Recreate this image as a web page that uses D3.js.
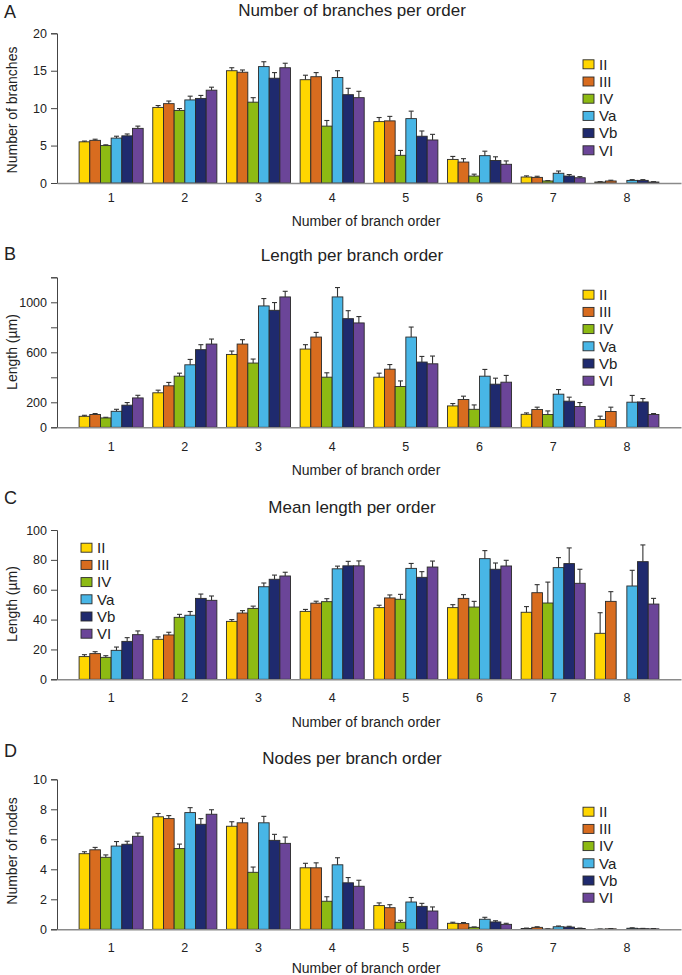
<!DOCTYPE html>
<html>
<head>
<meta charset="utf-8">
<script src="https://cdn.jsdelivr.net/npm/d3@7"></script>
<style>
  html, body { margin: 0; padding: 0; background: #fff; }
  svg { display: block; }
  text { font-family: "Liberation Sans Narrow", "Arial Narrow", "Liberation Sans", Arial, sans-serif; fill: #222; }
</style>
</head>
<body>
<svg id="chart" width="682" height="975"></svg>
<script>
// ---------- data ----------
const categories = ["1", "2", "3", "4", "5", "6", "7", "8"];
const groups = ["II", "III", "IV", "Va", "Vb", "VI"];
const colors = ["#FFD600", "#D86C1F", "#8DBA13", "#48B6E6", "#1F2A6E", "#6B4598"];

// Panel A: number of branches (rows = groups, columns = categories)
const branchesMean = [
  [5.5, 10.1, 15.0, 13.8, 8.2, 3.15, 0.8, 0.13],
  [5.7, 10.6, 14.8, 14.2, 8.3, 2.8, 0.75, 0.27],
  [5.0, 9.7, 10.8, 7.6, 3.7, 0.93, 0.27, 0.0],
  [6.0, 11.1, 15.55, 14.1, 8.6, 3.65, 1.3, 0.35],
  [6.3, 11.3, 14.0, 11.8, 6.25, 3.0, 0.93, 0.35],
  [7.3, 12.4, 15.4, 11.4, 5.75, 2.5, 0.7, 0.13]
];
const branchesErr = [
  [0.1, 0.25, 0.4, 0.6, 0.55, 0.4, 0.15, 0.05],
  [0.15, 0.35, 0.3, 0.55, 0.6, 0.45, 0.15, 0.1],
  [0.1, 0.25, 0.6, 0.75, 0.65, 0.25, 0.05, 0],
  [0.25, 0.5, 0.65, 0.9, 1.0, 0.6, 0.3, 0.1],
  [0.25, 0.4, 0.75, 0.85, 0.7, 0.5, 0.2, 0.1],
  [0.3, 0.4, 0.6, 0.85, 0.75, 0.45, 0.15, 0.05]
];

// Panel B: length per branch order (µm)
const lengthMean = [
  [88, 276, 583, 626, 401, 171, 104, 62],
  [102, 332, 666, 722, 465, 222, 142, 126],
  [75, 409, 514, 401, 326, 144, 102, 0],
  [128, 500, 971, 1043, 722, 409, 265, 201],
  [177, 621, 936, 869, 522, 345, 209, 203],
  [235, 666, 1043, 835, 508, 361, 166, 102]
];
const lengthErr = [
  [8, 21, 27, 35, 32, 19, 11, 27],
  [8, 27, 35, 37, 37, 27, 19, 35],
  [5, 24, 32, 35, 45, 35, 29, 0],
  [16, 43, 59, 75, 80, 54, 37, 54],
  [21, 40, 62, 64, 45, 48, 32, 27],
  [21, 40, 45, 51, 62, 54, 32, 8]
];

// Panel C: mean length per order (µm)
const meanLenMean = [
  [15.2, 26.8, 38.8, 45.5, 48, 48, 44.9, 30.8],
  [17.2, 29.7, 44.4, 51, 54.5, 54.2, 58, 52.2],
  [14.7, 41.5, 47.5, 52, 53.6, 48.4, 51.1, 0],
  [19.4, 42.9, 62, 74, 74.3, 80.8, 74.8, 62.5],
  [25.4, 54.2, 67, 76, 68.3, 73.7, 77.5, 78.8],
  [29.9, 52.9, 69.2, 76, 75.2, 75.9, 64.3, 50.4]
];
const meanLenErr = [
  [1.3, 1.6, 1.2, 1.3, 1.6, 2.0, 3.8, 13.8],
  [1.3, 1.8, 1.6, 1.3, 2.0, 2.5, 5.4, 6.5],
  [1.1, 2.0, 1.5, 2.0, 3.3, 3.8, 14, 0],
  [2.2, 2.5, 2.5, 1.8, 3.3, 5.4, 6.7, 10.5],
  [2.5, 2.9, 2.8, 3.0, 3.8, 4.2, 10.5, 11.2],
  [2.5, 2.9, 2.5, 3.3, 4.0, 3.8, 9.4, 3.8]
];

// Panel D: nodes per branch order
const nodesMean = [
  [5.04, 7.5, 6.87, 4.1, 1.58, 0.4, 0.05, 0.01],
  [5.3, 7.38, 7.1, 4.1, 1.44, 0.38, 0.13, 0.03],
  [4.8, 5.38, 3.8, 1.87, 0.47, 0.13, 0.02, 0.0],
  [5.55, 7.78, 7.1, 4.3, 1.82, 0.67, 0.17, 0.07],
  [5.67, 7.0, 5.93, 3.1, 1.53, 0.49, 0.15, 0.04],
  [6.2, 7.67, 5.73, 2.87, 1.22, 0.33, 0.05, 0.03]
];
const nodesErr = [
  [0.13, 0.22, 0.3, 0.3, 0.18, 0.07, 0.03, 0.01],
  [0.16, 0.2, 0.3, 0.33, 0.2, 0.07, 0.04, 0.02],
  [0.16, 0.3, 0.35, 0.3, 0.13, 0.03, 0.01, 0],
  [0.3, 0.33, 0.43, 0.47, 0.3, 0.13, 0.05, 0.03],
  [0.2, 0.38, 0.4, 0.35, 0.2, 0.08, 0.05, 0.02],
  [0.22, 0.3, 0.42, 0.4, 0.27, 0.07, 0.03, 0.02]
];

// tick values
const ticksA = [0, 5, 10, 15, 20];
const ticksB = [0, 200, 400, 600, 800, 1000, 1200];
const labelsB = [0, 200, 600, 1000];
const ticksC = [0, 20, 40, 60, 80, 100];
const ticksD = [0, 2, 4, 6, 8, 10];

// ---------- layout ----------
const panels = [
  { letter: "A", title: "Number of branches per order", ylabel: "Number of branches",
    mean: branchesMean, err: branchesErr, max: 20, ticks: ticksA, labels: ticksA,
    y0: 183, y1: 33.3, titleY: 16, letterY: 18, xlabY: 201.5, xtitleY: 226, ytitleY: 110,
    legX: 583, legY: 64.3 },
  { letter: "B", title: "Length per branch order", ylabel: "Length (\u00B5m)",
    mean: lengthMean, err: lengthErr, max: 1200, ticks: ticksB, labels: labelsB,
    y0: 427.3, y1: 277.3, titleY: 261, letterY: 260, xlabY: 451, xtitleY: 475, ytitleY: 352,
    legX: 583, legY: 294.7 },
  { letter: "C", title: "Mean length per order", ylabel: "Length (\u00B5m)",
    mean: meanLenMean, err: meanLenErr, max: 100, ticks: ticksC, labels: ticksC,
    y0: 679.3, y1: 530, titleY: 513, letterY: 504, xlabY: 702.5, xtitleY: 727, ytitleY: 604,
    legX: 81, legY: 547.7 },
  { letter: "D", title: "Nodes per branch order", ylabel: "Number of nodes",
    mean: nodesMean, err: nodesErr, max: 10, ticks: ticksD, labels: ticksD,
    y0: 929.3, y1: 779.3, titleY: 764, letterY: 757, xlabY: 952, xtitleY: 973, ytitleY: 851,
    legX: 583, legY: 811.7 }
];

const svg = d3.select("#chart");
const axisX0 = 57, axisX1 = 681;

const x = d3.scaleBand().domain(categories).range([axisX0, axisX1])
  .paddingInner(0.13).paddingOuter(0.3);
const xs = d3.scaleBand().domain(groups).range([0, x.bandwidth()]).padding(0);

const fontStack = "\"Liberation Sans Narrow\", \"Arial Narrow\", \"Liberation Sans\", Arial, sans-serif";

panels.forEach(p => {
  const g = svg.append("g");
  const y = d3.scaleLinear().domain([0, p.max]).range([p.y0, p.y1]);

  // letter & title
  g.append("text").attr("x", 4).attr("y", p.letterY).attr("font-size", 18).text(p.letter);
  g.append("text").attr("x", 352).attr("y", p.titleY).attr("text-anchor", "middle")
    .attr("font-size", 17).text(p.title);

  // bars
  const rows = [];
  groups.forEach((grp, gi) => {
    categories.forEach((c, ci) => {
      rows.push({ grp, gi, c, v: p.mean[gi][ci], e: p.err[gi][ci] });
    });
  });
  const drawn = rows.filter(d => d.v > 0);

  g.append("g").selectAll("rect").data(drawn).join("rect")
    .attr("x", d => x(d.c) + xs(d.grp))
    .attr("y", d => y(d.v))
    .attr("width", xs.bandwidth())
    .attr("height", d => y(0) - y(d.v))
    .attr("fill", d => colors[d.gi])
    .attr("stroke", "#2a2a2a").attr("stroke-width", 0.9);

  // error bars (upper only)
  const eb = g.append("g").attr("stroke", "#333").attr("stroke-width", 1.1);
  drawn.filter(d => d.e > 0).forEach(d => {
    const cx = x(d.c) + xs(d.grp) + xs.bandwidth() / 2;
    eb.append("line").attr("x1", cx).attr("x2", cx).attr("y1", y(d.v)).attr("y2", y(d.v + d.e));
    eb.append("line").attr("x1", cx - 2.5).attr("x2", cx + 2.5).attr("y1", y(d.v + d.e)).attr("y2", y(d.v + d.e));
  });

  // y axis
  const yAxis = d3.axisLeft(y).tickValues(p.ticks).tickSize(6).tickPadding(4)
    .tickFormat(v => p.labels.includes(v) ? d3.format("d")(v) : "");
  const ya = g.append("g").attr("transform", `translate(${axisX0},0)`).call(yAxis);
  ya.select(".domain").attr("stroke", "#444").attr("stroke-width", 1);
  ya.selectAll(".tick line").attr("stroke", "#444");
  ya.selectAll(".tick text").attr("font-size", 12.5).attr("fill", "#222").style("font-family", fontStack);

  // x axis (line only, labels below)
  const xAxis = d3.axisBottom(x).tickSize(0).tickPadding(0);
  const xa = g.append("g").attr("transform", `translate(0,${p.y0})`).call(xAxis);
  xa.select(".domain").attr("stroke", "#8a8a8a").attr("stroke-width", 1.6);
  xa.selectAll(".tick text").attr("font-size", 12.5).attr("fill", "#222")
    .attr("dy", null).attr("y", p.xlabY - p.y0).style("font-family", fontStack);

  // axis titles
  g.append("text").attr("x", 366).attr("y", p.xtitleY).attr("text-anchor", "middle")
    .attr("font-size", 14).text("Number of branch order");
  g.append("text").attr("transform", `translate(17,${p.ytitleY}) rotate(-90)`)
    .attr("text-anchor", "middle").attr("font-size", 14).text(p.ylabel);

  // legend
  const leg = g.append("g");
  groups.forEach((grp, gi) => {
    const cy = p.legY + gi * 17.2;
    leg.append("rect").attr("x", p.legX).attr("y", cy - 4.5).attr("width", 11).attr("height", 9)
      .attr("fill", colors[gi]).attr("stroke", "#2a2a2a").attr("stroke-width", 0.9);
    leg.append("text").attr("x", p.legX + 16).attr("y", cy + 5.2).attr("font-size", 15).text(grp);
  });
});
</script>
</body>
</html>
